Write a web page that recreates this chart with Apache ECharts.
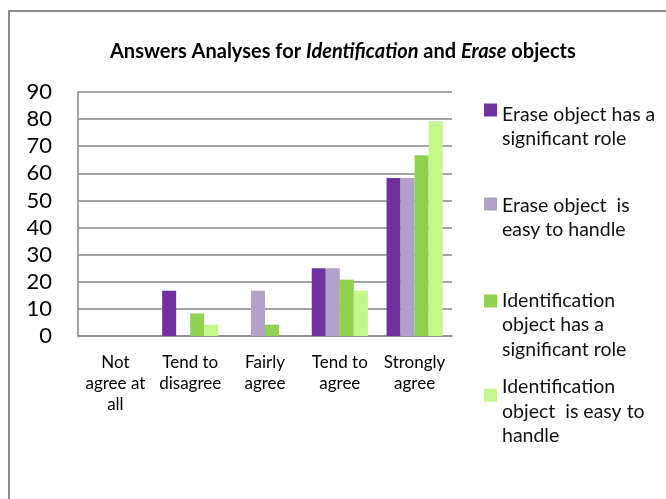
<!DOCTYPE html>
<html>
<head>
<meta charset="utf-8">
<script src="https://cdn.jsdelivr.net/npm/echarts@6/dist/echarts.min.js"></script>
<style>
  html, body { margin: 0; padding: 0; background: #fff; }
  #chart { width: 666px; height: 499px; }
</style>
</head>
<body>
<div id="chart"></div>
<script>
// categories on the x axis
const categories = ['Not\nagree at\nall', 'Tend to\ndisagree', 'Fairly\nagree', 'Tend to\nagree', 'Strongly\nagree']
// percentages
const eraseRole = [0, 16.7, 0, 25, 58.3]
const eraseEasy = [0, 0, 16.7, 25, 58.3]
const identRole = [0, 8.3, 4.2, 20.8, 66.7]
const identEasy = [0, 4.2, 0, 16.7, 79.2]
const seriesNames = [
  'Erase object has a\nsignificant role',
  'Erase object  is\neasy to handle',
  'Identification\nobject has a\nsignificant role',
  'Identification\nobject  is easy to\nhandle'
]
const colors = ['#7030A0', '#B3A2C7', '#92D050', '#C3F78C']

const font = 'Lato, "Liberation Sans", sans-serif'
const LH = 24.5
const chart = echarts.init(document.getElementById('chart'))

// one legend per item; a spacer line above the text pushes the first
// line level with the icon, as in the reference
const spacers = [33.5, 27.5, 48, 33]
const iconCenters = [109.5, 203.5, 300.5, 394.7]
const legends = seriesNames.map((name, i) => {
  const n = name.split('\n').length
  const h = spacers[i] + n * LH
  return {
    data: [name],
    orient: 'vertical',
    left: 484,
    top: iconCenters[i] - h / 2 + spacers[i] / 2,
    padding: 0,
    itemWidth: 13,
    itemHeight: 13,
    icon: 'rect',
    selectedMode: false,
    formatter: s => '{p| }\n' + s.split('\n').map(l => '{t|' + l + '}').join('\n'),
    textStyle: {
      rich: {
        p: { fontSize: 1, lineHeight: spacers[i] },
        t: { fontFamily: font, fontSize: 19.5, lineHeight: LH, color: '#111' }
      }
    }
  }
})

const data = [eraseRole, eraseEasy, identRole, identEasy]

const option = {
  animation: false,
  backgroundColor: '#fff',
  graphic: [{
    type: 'rect',
    shape: { x: 9, y: 11, width: 800, height: 800 },
    style: { fill: 'none', stroke: '#8a8a8a', lineWidth: 2 }
  }],
  title: {
    text: '{b|Answers Analyses for }{bi|Identification}{b| and }{bi|Erase}{b| objects}',
    left: 105,
    top: 37,
    textStyle: {
      rich: {
        b: { fontFamily: font, fontWeight: 'bold', fontSize: 20, color: '#000' },
        bi: { fontFamily: font, fontWeight: 'bold', fontStyle: 'italic', fontSize: 20, color: '#000' }
      }
    }
  },
  legend: legends,
  grid: { left: 78, top: 92, right: 214, bottom: 163 },
  xAxis: {
    type: 'category',
    data: categories,
    axisTick: { show: false },
    axisLine: { lineStyle: { color: '#868686', width: 1.5 } },
    axisLabel: {
      interval: 0,
      margin: 16,
      fontFamily: font,
      fontSize: 17,
      lineHeight: 21,
      color: '#000'
    }
  },
  yAxis: {
    type: 'value',
    min: 0,
    max: 90,
    interval: 10,
    axisLine: { show: true, lineStyle: { color: '#868686', width: 1.5 } },
    axisTick: { show: false },
    splitLine: { lineStyle: { color: '#868686', width: 1.5 } },
    axisLabel: {
      margin: 26,
      fontFamily: font,
      fontSize: 22,
      color: '#000'
    }
  },
  series: data.map((d, i) => ({
    name: seriesNames[i],
    type: 'bar',
    data: d,
    barGap: '0%',
    barCategoryGap: '25%',
    itemStyle: { color: colors[i] }
  }))
}
chart.setOption(option)
</script>
</body>
</html>
